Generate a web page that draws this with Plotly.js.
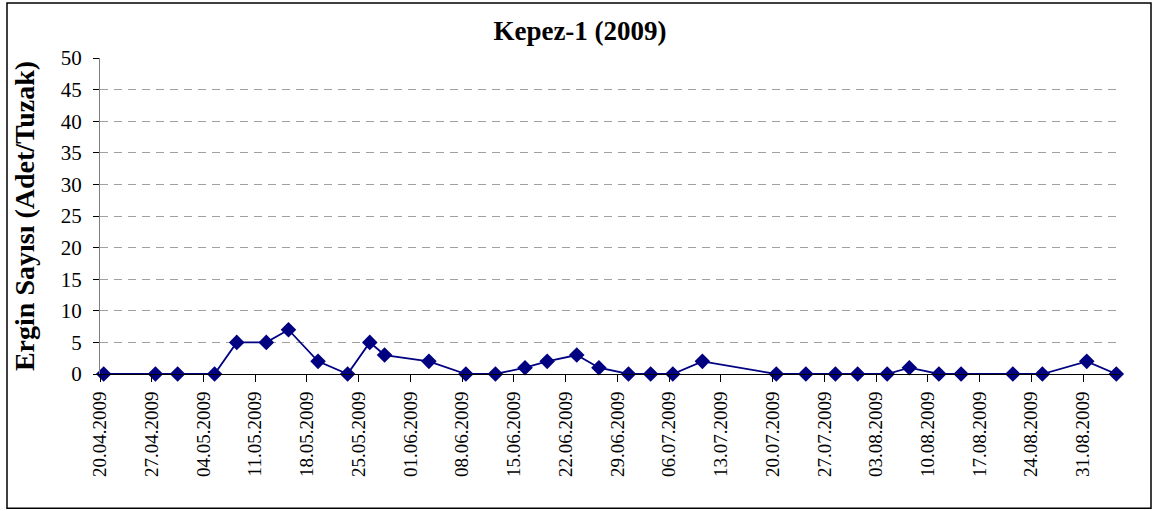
<!DOCTYPE html>
<html>
<head>
<meta charset="utf-8">
<script src="https://cdn.plot.ly/plotly-3.0.1.min.js"></script>
<style>
html,body{margin:0;padding:0;background:#fff;}
#chart{width:1154px;height:511px;}
</style>
</head>
<body>
<div id="chart"></div>
<script>
// ---- data ----
const dates = [
  "2009-04-20","2009-04-27","2009-04-30","2009-05-05","2009-05-08","2009-05-12",
  "2009-05-15","2009-05-19","2009-05-23","2009-05-26","2009-05-28","2009-06-03",
  "2009-06-08","2009-06-12","2009-06-16","2009-06-19","2009-06-23","2009-06-26",
  "2009-06-30","2009-07-03","2009-07-06","2009-07-10","2009-07-20","2009-07-24",
  "2009-07-28","2009-07-31","2009-08-04","2009-08-07","2009-08-11","2009-08-14",
  "2009-08-21","2009-08-25","2009-08-31","2009-09-04"
];
const counts = [
  0,0,0,0,5,5,
  7,2,0,5,3,2,
  0,0,1,2,3,1,
  0,0,0,2,0,0,
  0,0,0,1,0,0,
  0,0,2,0
];
const tickDates = [
  "2009-04-20","2009-04-27","2009-05-04","2009-05-11","2009-05-18","2009-05-25",
  "2009-06-01","2009-06-08","2009-06-15","2009-06-22","2009-06-29","2009-07-06",
  "2009-07-13","2009-07-20","2009-07-27","2009-08-03","2009-08-10","2009-08-17",
  "2009-08-24","2009-08-31"
];
const tickLabels = [
  "20.04.2009","27.04.2009","04.05.2009","11.05.2009","18.05.2009","25.05.2009",
  "01.06.2009","08.06.2009","15.06.2009","22.06.2009","29.06.2009","06.07.2009",
  "13.07.2009","20.07.2009","27.07.2009","03.08.2009","10.08.2009","17.08.2009",
  "24.08.2009","31.08.2009"
];
const chartTitle = "Kepez-1 (2009)";
const yTitle = "Ergin Sayısı (Adet/Tuzak)";

// tick marks sit half a day before each labelled date (Excel "between" style)
const tickMarkVals = tickDates.map(s => {
  const t = new Date(s + "T00:00:00Z").getTime() - 12*3600*1000;
  return new Date(t).toISOString().slice(0,19).replace("T"," ");
});

const serif = "'Liberation Serif', 'Times New Roman', serif";
const navy = "#000080";

const trace = {
  x: dates, y: counts, type: "scatter", mode: "lines+markers",
  line: {color: navy, width: 1.8},
  marker: {symbol: "diamond", size: 12, color: navy},
  cliponaxis: false,
  hoverinfo: "x+y"
};

const L = 100, R = 1120, T = 58, B = 374.5;
const pw = R - L, ph = B - T;
const px = v => (v - L) / pw;
const py = v => (B - v) / ph;

const layout = {
  width: 1154, height: 511,
  margin: {l: L, r: 1154 - R, t: T, b: 511 - B},
  paper_bgcolor: "#fff", plot_bgcolor: "#fff",
  showlegend: false,
  font: {family: serif, color: "#000"},
  title: {
    text: "<b>" + chartTitle + "</b>",
    font: {family: serif, size: 27, color: "#000"},
    x: 580/1154, xanchor: "center", xref: "container",
    y: 1 - 31/511, yanchor: "middle", yref: "container"
  },
  xaxis: {
    type: "date",
    range: ["2009-04-19 12:00", "2009-09-04 12:00"],
    tickmode: "array",
    tickvals: tickMarkVals,
    ticktext: tickLabels,
    tickangle: -90,
    ticklabelshift: 3.7,
    ticklabelstandoff: 2,
    ticks: "outside", ticklen: 7, tickcolor: "#000", tickwidth: 1,
    showline: true, linecolor: "#000", linewidth: 1,
    showgrid: false, zeroline: false,
    tickfont: {family: serif, size: 19, color: "#000"}
  },
  yaxis: {
    range: [0, 50],
    tickmode: "linear", tick0: 0, dtick: 5,
    ticks: "outside", ticklen: 6, tickcolor: "#000", tickwidth: 1,
    showline: true, linecolor: "#808080", linewidth: 1,
    showgrid: true, gridcolor: "#a0a0a0", gridwidth: 1, griddash: "8px,6px",
    zeroline: false,
    ticklabelstandoff: 7,
    tickfont: {family: serif, size: 21, color: "#000"},
    title: {
      text: "<b>" + yTitle + "</b>",
      font: {family: serif, size: 28, color: "#000"},
      standoff: 17
    }
  },
  shapes: [{
    type: "rect", xref: "paper", yref: "paper",
    x0: px(7), x1: px(1151), y0: py(509), y1: py(3),
    line: {color: "#000", width: 1.5}, fillcolor: "rgba(0,0,0,0)", layer: "below"
  }]
};

Plotly.newPlot("chart", [trace], layout, {displayModeBar: false, staticPlot: true});
</script>
</body>
</html>
